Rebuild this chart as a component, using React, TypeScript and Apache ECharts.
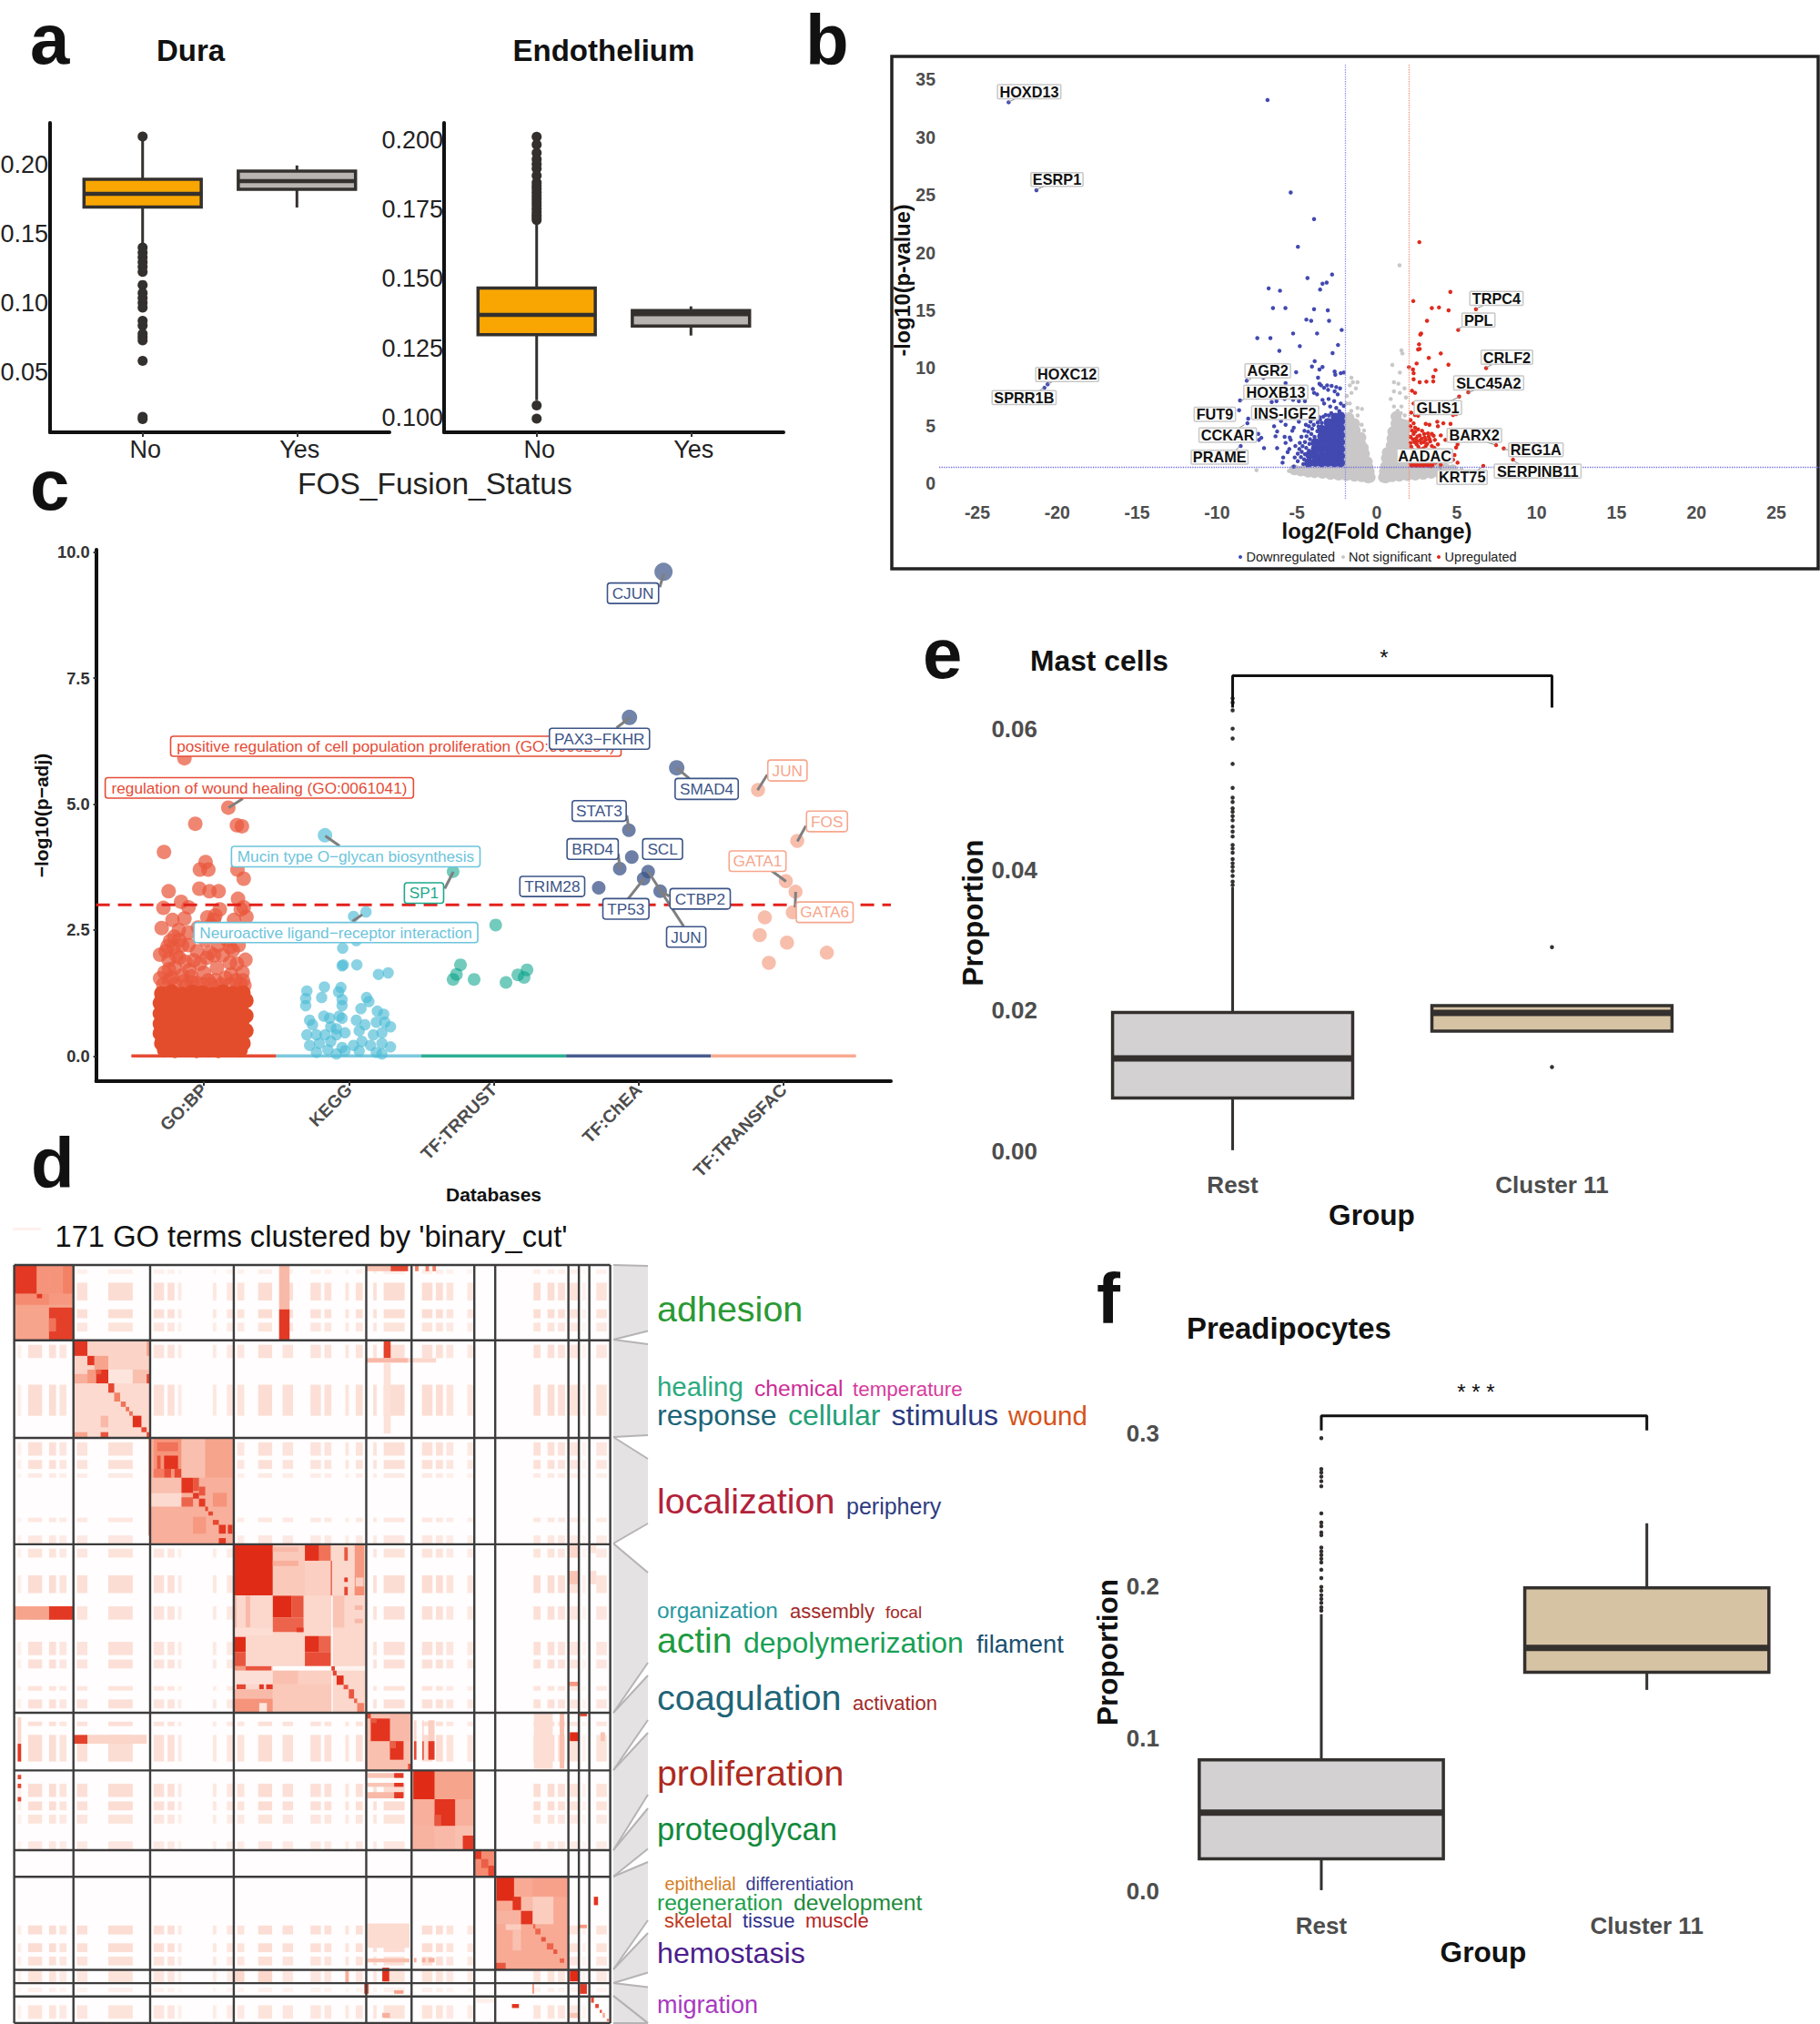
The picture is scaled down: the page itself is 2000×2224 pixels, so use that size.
import React, { useEffect, useRef } from "react";
import * as echarts from "echarts";

const FONT = '"Liberation Sans"';
const YES_NO = ["No", "Yes"];
const GROUPS = ["Rest", "Cluster 11"];
const DATABASES = ["GO:BP", "KEGG", "TF:TRRUST", "TF:ChEA", "TF:TRANSFAC"];

// ---- panel a: [x, low whisker, q1, median, q3, high whisker]
const duraBoxes = [
  [1, 0.143, 0.1694, 0.179, 0.1895, 0.2204],
  [2, 0.1691, 0.1822, 0.1882, 0.1955, 0.1995],
];
const duraOutliers = [0.2204, 0.1401, 0.1366, 0.1331, 0.1296, 0.1261, 0.1226, 0.1131, 0.1072, 0.1037, 0.1002, 0.0967, 0.0872, 0.0837, 0.0778, 0.0755, 0.0731, 0.0583, 0.0178, 0.0162];
const endoBoxes = [
  [1, 0.1063, 0.1299, 0.137, 0.1467, 0.171],
  [2, 0.1296, 0.133, 0.1373, 0.1386, 0.1401],
];
const endoOutliers = [0.2012, 0.1983, 0.1954, 0.1931, 0.1914, 0.1897, 0.1872, 0.1847, 0.1835, 0.1824, 0.1812, 0.18, 0.1788, 0.1777, 0.1765, 0.1753, 0.1741, 0.173, 0.1721, 0.1712, 0.1044, 0.0997];

// ---- panel b: volcano points [log2FC, -log10p]
const volcanoDown = [
  [-23.04, 33], [-21.3, 25.4], [-20.6, 8.6], [-20.8, 8.3], [-6.84, 33.2], [-5.39, 25.2], [-3.93, 22.9], [-4.94, 20.5], [-2.8, 18.1], [-4.34, 17.8], [-3.14, 17.4], [-3.4, 17.3], [-3.55, 16.8], [-6.77, 16.9], [-6.06, 16.7],
  [-6.5, 15.2], [-5.72, 15.2], [-3.93, 15.1], [-3.07, 15], [-4.41, 14.2], [-4.11, 14.1], [-2.99, 14.1], [-2.2, 13.3], [-5.24, 13], [-3.74, 13], [-7.48, 12.6], [-6.66, 12.6], [-2.43, 12], [-4.82, 11.9], [-6.1, 11.5], [-2.77, 11.3], [-3.89, 10.6],
  [-5.05, 9.64], [-4.06, 10.14], [-3.4, 10.1], [-3.59, 9.88], [-2.64, 9.7], [-2.6, 9.43], [-2.26, 9.56], [-2.07, 9.62], [-3.68, 9.17], [-3.59, 8.64], [-3.49, 8.51], [-3.3, 8.3], [-3.05, 8.12], [-3.11, 8.51], [-2.83, 8.46], [-2.54, 8.36], [-2.3, 8.25], [-2.64, 7.99], [-2.45, 7.73], [-4, 8.2], [-3.93, 7.86], [-3.74, 7.73], [-5.58, 8.38], [-5.71, 8.7], [-7.1, 9.17], [-8.14, 8.91], [-8.56, 7.2], [-8.62, 6.36], [-8.05, 5.63], [-8.1, 5.23], [-7.42, 4.31], [-7.23, 3.97], [-7.38, 3.79], [-8.52, 3.26], [-7.06, 3.08],
  [-6.58, 7.07], [-6.28, 7.15], [-5.77, 7.33], [-5.24, 7.25], [-4.88, 7.15], [-4.5, 7.15], [-3.4, 7.25], [-3.02, 7.33], [-2.67, 7.15], [-2.26, 6.94], [-2.07, 6.73], [-3.3, 6.94], [-3.74, 6.55], [-2.92, 6.68], [-2.54, 6.55], [-2.35, 6.28],
  [-6.43, 4.97], [-6, 5.42], [-5.71, 5.1], [-6.24, 4.52], [-6.34, 4.1], [-5.77, 4.05], [-6.24, 3.08], [-5.71, 3.53], [-5.86, 2.27], [-5.9, 1.82], [-5.58, 2.74], [-5.48, 3], [-5.39, 3.79], [-5.29, 4.58], [-5.2, 4.84], [-5.45, 4], [-5.1, 3.26], [-4.88, 5.36], [-4.72, 5.89], [-4.15, 5.36], [-3.77, 6.02], [-3.59, 5.76],
  [-5.2, 1.48], [-4.95, 1.95], [-5.14, 2.27], [-4.82, 3.53], [-4.72, 4.05], [-4.53, 4.58], [-4.44, 5.1], [-4.25, 4.97], [-3.97, 5.63],
  [-4.95, 2.6], [-4.85, 3], [-4.75, 2.3], [-4.7, 2.75], [-4.65, 3.25], [-4.6, 1.7], [-4.55, 2.1], [-4.5, 2.55], [-4.5, 3.6], [-4.42, 3.1], [-4.4, 4.1], [-4.35, 1.6], [-4.3, 2.05], [-4.3, 4.5], [-4.25, 2.85], [-4.22, 3.45], [-4.18, 3.85], [-4.1, 4.3], [-4.1, 2.4], [-4.05, 4.75], [-4.02, 1.75], [-3.98, 3.15], [-3.95, 5.1], [-3.9, 4.05], [-3.88, 3.6], [-3.8, 2.2], [-3.72, 4.55], [-3.7, 5.3], [-3.65, 4.95], [-3.55, 5.55], [-3.45, 5.25], [-3.35, 5.8], [-3.2, 5.95], [-3, 5.9], [-2.85, 6.1],
];
const volcanoDownDense = [
  [-2.27, 1.82], [-2.27, 2.4], [-2.27, 3], [-2.27, 3.6], [-2.27, 4.2], [-2.27, 4.8], [-2.27, 5.4], [-2.27, 5.85],
  [-2.65, 1.82], [-2.65, 2.3], [-2.65, 2.9], [-2.65, 3.5], [-2.65, 4.1], [-2.65, 4.7], [-2.65, 5.3], [-2.6, 5.75],
  [-3.05, 1.85], [-3.05, 2.4], [-3.05, 3], [-3.05, 3.6], [-3.05, 4.2], [-3.05, 4.8], [-3.05, 5.3],
  [-3.45, 1.82], [-3.45, 2.35], [-3.45, 2.95], [-3.45, 3.5], [-3.45, 4.1], [-3.45, 4.7],
  [-3.85, 1.85], [-3.85, 2.4], [-3.85, 3], [-3.85, 3.55],
  [-4.25, 1.82], [-4.2, 2.5],
];
const volcanoNsDense = [
  [-1.75, 1.6], [-1.75, 2.2], [-1.75, 2.8], [-1.75, 3.4], [-1.75, 4], [-1.75, 4.6], [-1.75, 5.2], [-1.75, 5.7],
  [-1.35, 1.6], [-1.35, 2.2], [-1.35, 2.8], [-1.35, 3.4], [-1.35, 4], [-1.35, 4.6], [-1.4, 5.2],
  [-1, 1.6], [-1, 2.2], [-1, 2.8], [-1, 3.4], [-1, 4],
  [-0.75, 1.5], [-0.75, 2], [-0.78, 2.6], [-0.85, 3.1],
  [-0.55, 0.9], [-0.55, 1.4], [-0.6, 1.9], [-0.42, 0.55], [-0.48, 1.05],
  [0.42, 0.55], [0.48, 1.05], [0.55, 0.9], [0.55, 1.5], [0.6, 2.2], [0.65, 2.7],
  [0.8, 1.5], [0.8, 2.1], [0.85, 2.7], [0.9, 3.3], [0.95, 3.9], [1, 4.5],
  [1.1, 1.6], [1.1, 2.2], [1.1, 2.8], [1.15, 3.4], [1.15, 4], [1.15, 4.6], [1.2, 5.2], [1.2, 5.8],
  [1.4, 1.6], [1.4, 2.2], [1.4, 2.8], [1.45, 3.4], [1.45, 4], [1.45, 4.6], [1.5, 5.2],
  [1.75, 1.6], [1.75, 2.2], [1.75, 2.8], [1.75, 3.4], [1.75, 4], [1.75, 4.6], [1.75, 5.1],
  [-5.15, 1.2], [-4.75, 1.1], [-4.3, 1], [-4.3, 1.3], [-3.9, 0.95], [-3.9, 1.3], [-3.4, 0.9], [-3.4, 1.25], [-2.9, 0.8], [-2.9, 1.2], [-2.4, 0.75], [-2.4, 1.2], [-1.9, 0.7], [-1.9, 1.2], [-1.4, 0.65], [-1.4, 1.1], [-0.95, 0.6], [-0.95, 1.1], [-0.55, 0.5],
  [0.55, 0.5], [0.95, 0.6], [0.95, 1.1], [1.4, 0.65], [1.4, 1.1], [1.9, 0.7], [1.9, 1.2], [2.4, 0.75], [2.4, 1.2], [2.9, 0.8], [2.9, 1.2], [3.4, 0.9], [3.4, 1.25], [3.9, 0.95], [3.9, 1.3], [4.3, 1.05], [4.3, 1.3], [4.75, 1.2],
];
const volcanoNs = [
  [1.42, 18.9], [1.54, 11.53], [1.6, 11.27], [0.97, 10.27], [1.44, 9.62], [1.07, 8.78], [1.35, 8.65], [1.73, 8.25], [1.07, 7.99], [1.44, 7.86], [0.87, 7.33], [1.82, 7.46], [-1.59, 9.17], [-1.21, 8.78], [-1.5, 8.78], [-1.69, 8.51], [-1.31, 8.25], [-1.59, 7.86], [-1.88, 7.6], [-1.69, 6.94], [-1.21, 6.55], [-0.93, 6.47], [1.07, 6.68], [1.54, 6.68], [1.3, 6.3], [-7.53, 1.17], [-1.88, 6.94], [-1.6, 6.3], [-1.2, 5.9], [-0.95, 5.1], [-0.8, 4.6], [-5.5, 1.1], [5, 1.15], [5.3, 1.25], [1.75, 5.9], [1.5, 6.1],
];
const volcanoUp = [
  [2.66, 20.9], [4.6, 16.6], [2.28, 15.8], [3.44, 15.2], [3.89, 15.25], [4.49, 15], [6.2, 15.1], [3.14, 14.1], [5.09, 13.3], [2.77, 13], [2.72, 12.9],
  [2.64, 12.06], [2.68, 11.66], [2.58, 11.61], [4, 11.27], [3.25, 10.88], [2.01, 10.09], [2.49, 10.4], [2.26, 9.88], [4.48, 10.3], [6.84, 10], [3.67, 9.83], [3.53, 9.25], [3.1, 8.83], [3.53, 8.85], [2.68, 8.78], [2.3, 9.56], [2.3, 9.04], [2.2, 8.04], [2.39, 7.86], [5.72, 7.91], [5.15, 7.54], [2.3, 6.94],
  [2.15, 6.15], [2.39, 5.94], [2.58, 5.89], [4.77, 5.94], [4.96, 6.02], [4.2, 6.28], [2.11, 5.5], [2.3, 5.23], [2.11, 4.97], [2.39, 4.84], [3.06, 5.18], [3.29, 5.1], [3.78, 5.36], [3.82, 4.97], [4.16, 5.23], [4.61, 5.18], [2.58, 4.71], [2.83, 4.58], [2.3, 4.31], [2.68, 4.18], [2.96, 4.31], [3.25, 4.05], [3.44, 4.31], [4, 4.18], [2.11, 4.05], [3.06, 3.79], [3.34, 3.66], [3.63, 3.79], [4.29, 3.79], [2.11, 3.53], [2.49, 3.4], [2.77, 3.53], [3.06, 3.26], [3.44, 3.26], [3.82, 3.4], [5.05, 3.4], [4.96, 3.13], [2.2, 3], [2.68, 3], [2.3, 2.61], [3.25, 2.74], [5.05, 1.82], [4.86, 2.48], [4.77, 2.08], [4, 1.64], [7.46, 3.34], [7.94, 3.05], [8.52, 2.08], [6.66, 1.53], [3.91, 2.87], [2.2, 1.95], [3.44, 1.95], [2.77, 2.48], [3.67, 1.82],
  [2.4, 4.5], [2.55, 4.1], [2.2, 4.6], [2.45, 3.9], [2.8, 3.9], [2.95, 3.6], [3.15, 3.45], [2.6, 3.2], [2.9, 3.05], [3.6, 3.1], [2.35, 3.6], [2.15, 3.2], [3.2, 4.35], [3.55, 4.15], [2.25, 3.85], [2.5, 3.65], [2.7, 3.75], [3, 4], [3.3, 3.85], [2.25, 2.75], [2.55, 2.8], [2.85, 2.7],
];
const volcanoUpDense = [[2.2, 1.68], [2.45, 1.68], [2.7, 1.68], [2.95, 1.68], [3.2, 1.68], [3.4, 1.65]];

// ---- panel c: Manhattan points [x position, -log10(p-adj)]
const goBpPoints = [
  [0.866, 5.91], [1.169, 4.93], [0.941, 4.61], [1.228, 4.58], [1.263, 4.56], [0.725, 4.05], [1.012, 3.85], [0.973, 3.7], [1.031, 3.7], [1.232, 3.7], [1.275, 3.52], [0.757, 3.27], [0.969, 3.32], [1.039, 3.27], [1.102, 3.27], [0.843, 3.06], [1.236, 3.12], [0.721, 2.94], [0.894, 2.95], [1.11, 2.91], [1.275, 2.95], [1.255, 2.91], [0.784, 2.7], [0.866, 2.73], [1.024, 2.75], [1.079, 2.79], [1.294, 2.76], [1.208, 2.7], [1.07, 2.7], [1.05, 2.6], [0.709, 2.54], [0.827, 2.5], [0.768, 2.29], [0.796, 2.37], [0.894, 2.45], [0.737, 2.08], [0.698, 2.01], [0.757, 1.91], [0.894, 2.2], [0.953, 2.08], [1.071, 2], [1.181, 2.16], [1.287, 1.91], [1.228, 1.83], [0.874, 1.87], [0.973, 1.83], [1.09, 1.75], [0.729, 1.66], [1.267, 1.66], [0.914, 1.58], [1.031, 1.5], [1.188, 1.62], [0.698, 1.54], [0.8, 1.75], [0.85, 2.2], [1.16, 2.3], [1.2, 2.1], [0.79, 2.15], [0.83, 2.3], [0.9, 1.7], [1, 1.65], [1.15, 1.55], [0.78, 1.55], [1.27, 1.5], [1.1, 2.2], [0.96, 2.55], [1.13, 2.4], [0.85, 1.6],
  [0.72, 1.42], [0.76, 1.5], [0.8, 1.42], [0.83, 1.95], [0.86, 1.48], [0.88, 1.4], [0.92, 1.45], [0.93, 1.9], [0.95, 1.45], [0.99, 1.42], [1.02, 1.95], [1.04, 2.05], [1.05, 1.42], [1.08, 1.5], [1.12, 1.42], [1.13, 2], [1.18, 1.85], [1.18, 1.42], [1.22, 1.5], [1.25, 1.42], [1.28, 1.4], [0.75, 2.18], [0.81, 2], [1.01, 2.3], [1.18, 2.45], [1.24, 2.2], [0.76, 1.72],
];
const goBpDense = [
  [0.71, 1.24], [0.78, 1.27], [0.85, 1.22], [0.92, 1.26], [0.99, 1.25], [1.06, 1.22], [1.13, 1.27], [1.2, 1.24], [1.27, 1.25], [1.29, 1.1],
  [0.7, 1.05], [0.77, 1.03], [0.84, 1.06], [0.91, 1.02], [0.98, 1.05], [1.05, 1.04], [1.12, 1.03], [1.19, 1.06], [1.26, 1.02],
  [0.7, 0.84], [0.77, 0.86], [0.84, 0.83], [0.91, 0.85], [0.98, 0.82], [1.05, 0.86], [1.12, 0.84], [1.19, 0.83], [1.26, 0.86], [1.29, 0.8],
  [0.7, 0.64], [0.77, 0.62], [0.84, 0.65], [0.91, 0.63], [0.98, 0.66], [1.05, 0.62], [1.12, 0.65], [1.19, 0.63], [1.26, 0.64],
  [0.7, 0.45], [0.77, 0.43], [0.84, 0.46], [0.91, 0.42], [0.98, 0.44], [1.05, 0.46], [1.12, 0.43], [1.19, 0.45], [1.26, 0.42], [1.29, 0.5],
  [0.71, 0.25], [0.78, 0.24], [0.85, 0.26], [0.92, 0.23], [0.99, 0.25], [1.06, 0.24], [1.13, 0.26], [1.2, 0.23], [1.27, 0.25],
  [0.73, 0.12], [0.8, 0.11], [0.88, 0.13], [0.95, 0.11], [1.03, 0.12], [1.1, 0.11], [1.18, 0.13], [1.25, 0.12],
];
const keggPoints = [
  [1.836, 4.38], [2.033, 2.77], [2.119, 2.86], [2.052, 2.29], [1.958, 2.14], [1.962, 1.81], [2.056, 1.81], [1.954, 1.79], [2.205, 1.62], [2.272, 1.65], [1.711, 1.29], [1.832, 1.37], [1.946, 1.36], [1.93, 1.27], [1.703, 1.14], [1.813, 1.16], [1.954, 1.12], [2.123, 1.16], [1.703, 1], [2.139, 1.08], [1.954, 1], [2.084, 0.94], [1.73, 0.71], [2.197, 0.89], [2.241, 0.83], [1.828, 0.79], [1.934, 0.79], [1.954, 0.75], [1.868, 0.75], [1.75, 0.62], [1.876, 0.58], [1.915, 0.54], [2.052, 0.71], [2.111, 0.62], [2.19, 0.67], [2.249, 0.67], [2.288, 0.58], [1.711, 0.42], [1.777, 0.42], [1.836, 0.42], [1.915, 0.42], [1.974, 0.46], [2.072, 0.5], [2.17, 0.42], [2.229, 0.46], [1.73, 0.21], [1.797, 0.25], [1.876, 0.29], [1.954, 0.17], [2.033, 0.21], [2.091, 0.29], [2.15, 0.21], [2.229, 0.25], [2.288, 0.18], [1.777, 0.07], [1.856, 0.12], [1.915, 0.04], [1.974, 0.1], [2.072, 0.1], [2.19, 0.07], [2.229, 0.04],
];
const trrustPoints = [[2.72, 3.66], [3.014, 2.6], [2.771, 1.81], [2.743, 1.62], [2.72, 1.52], [2.865, 1.52], [3.085, 1.46], [3.167, 1.61], [3.23, 1.71], [3.21, 1.56]];
const cheaPoints = [[4.172, 9.61], [3.937, 6.72], [4.263, 5.72], [3.933, 4.48], [3.953, 3.95], [3.87, 3.72], [4.066, 3.66], [4.035, 3.52], [3.725, 3.34], [4.149, 3.27]];
const transfacPoints = [[4.824, 5.28], [5.095, 4.27], [5.016, 3.47], [5.083, 3.26], [5.064, 2.85], [4.871, 2.75], [4.836, 2.4], [5.024, 2.25], [5.299, 2.05], [4.899, 1.85]];
const SIG_LINE = 3;

// ---- panel d: term counts of the 11 clusters and hand-read regions of the similarity matrix
const clusterEdges = [0, 17, 39, 63, 101, 114, 132, 138, 159, 162, 165, 171];
// pale stripes [first term, last term, strength]
const paleBands = [
  [1, 2, 0.5], [4, 8, 1], [10, 12, 1], [13, 15, 0.8],
  [18, 21, 0.9], [27, 34, 1],
  [40, 43, 0.9], [44, 46, 0.9], [47, 48, 0.6], [57, 58, 0.7], [61, 63, 0.7],
  [64, 66, 0.8], [70, 74, 1], [77, 80, 0.9], [85, 88, 0.9], [89, 91, 0.9], [95, 96, 0.8], [98, 100, 0.9],
  [103, 104, 0.9], [106, 112, 1],
  [117, 120, 1], [121, 123, 1], [124, 126, 0.8], [130, 132, 0.7],
  [149, 151, 1], [153, 155, 1], [156, 158, 0.9],
  [159, 162, 0.8], [163, 164, 0.4], [167, 170, 0.8],
];
// [col from, col to, row from, row to, similarity], painted in order
const blockRegions = [
  // cluster 1
  [0, 17, 0, 17, 0.55], [0, 6.5, 0, 6.5, 0.95], [6.5, 10, 0, 6.5, 0.62], [10, 17, 0, 6.5, 0.62], [14, 17, 0, 6.5, 0.7], [0, 10, 6.5, 9, 0.66], [6.5, 8, 6.5, 7.5, 0.95], [10, 17, 6.5, 9, 0.6], [10, 17, 9.6, 17, 0.93], [10, 12, 12, 15, 0.75],
  // cluster 2
  [17, 39, 17, 39, 0.28], [21, 39, 17, 23.6, 0.33], [27, 34, 23.6, 26.7, 0.2], [34, 39, 23.6, 26.7, 0.42], [17, 21, 20.5, 26.7, 0.33], [17, 21, 24.6, 26.7, 0.5], [23, 27, 20.5, 23.6, 0.55], [21, 23.5, 23.6, 26.7, 0.6],
  [17, 21, 17, 20.5, 0.96], [21, 23, 20.5, 22.6, 0.96], [23.5, 27, 23.6, 26.7, 0.96], [23.5, 25, 23.6, 24.6, 0.82], [27, 28.7, 26.7, 28.8, 0.9], [28.7, 30.4, 28.8, 30.8, 0.7], [30.6, 32, 30.8, 32, 0.75], [32, 33, 32, 33, 0.75], [33, 34, 33, 34, 0.75], [34, 36.5, 34, 36.6, 0.98], [36.5, 38, 36.6, 37.7, 0.9], [38, 39, 37.7, 39, 0.9], [17, 21, 37.7, 39, 0.55], [24.8, 27, 34, 36.6, 0.45], [24.8, 27, 37.7, 39, 0.85], [38, 39, 17, 20.5, 0.55], [38, 39, 24.6, 26.7, 0.9],
  [38.5, 39, 39, 61, 0.55],
  // cluster 3
  [39, 63, 39, 63, 0.5], [40, 48, 39, 48, 0.62], [41, 47, 40, 42, 0.75], [43, 47, 43, 46, 0.97], [43, 45, 46, 48, 0.88], [46, 48, 46, 48, 0.9], [41, 42, 43, 46, 0.85], [40, 43, 46, 48, 0.72],
  [48, 54.8, 39, 48, 0.42], [54.8, 63, 39, 48, 0.55], [39, 48, 48, 51.4, 0.42], [39, 48, 51.4, 54.5, 0.28], [54.8, 63, 48, 54.5, 0.5], [57, 61, 51.4, 54.5, 0.62],
  [48, 51.3, 48, 51.4, 0.97], [51.3, 53, 48, 51, 0.85], [53, 54.8, 50, 52, 0.85], [48, 51.3, 52.4, 54.5, 0.8], [51.3, 53, 51.4, 52.7, 0.95], [53, 54.8, 52.7, 54.5, 0.95], [54.8, 55.6, 54.5, 55.5, 0.9], [55.7, 57, 55.6, 56.5, 0.9], [57, 58.7, 57.5, 58.6, 0.9], [58.7, 60.7, 58.6, 60.6, 0.95], [61.3, 62.6, 58.6, 60.6, 0.95], [58.7, 60.7, 61.6, 63, 0.95], [51.3, 55, 56.8, 60.6, 0.6],
  // cluster 4
  [63, 101, 63, 101, 0.3], [63, 74.2, 63, 74.5, 1], [74.2, 83.4, 63, 74.5, 0.38], [74.2, 81.5, 63.7, 64.7, 0.45], [74.2, 81.5, 66.7, 67.9, 0.5], [83.4, 87.5, 63, 66.7, 0.98], [87.5, 90.8, 63, 66.7, 0.75], [83.4, 90.8, 66.7, 74.5, 0.35], [90.8, 91.2, 66.7, 74.5, 0.8],
  [94.7, 95.7, 63.7, 66.7, 0.85], [94.7, 95.7, 70.5, 71.5, 0.95], [94.7, 95.7, 72.6, 74.5, 0.9], [97.7, 100.4, 63, 74.5, 0.6], [98, 100.2, 70.5, 72.5, 0.35], [97.7, 100.4, 72.6, 74.5, 0.65],
  [63, 74.2, 74.6, 81.8, 0.3], [66.4, 67.7, 74.6, 81.8, 0.45], [63, 63.8, 74.6, 81.8, 0.45], [63, 74.2, 81.8, 83.6, 0.25],
  [74.2, 79.5, 74.6, 79.5, 1], [79.5, 83, 74.6, 79.5, 0.85], [74.2, 83, 79.5, 82.8, 0.8], [81, 83, 81.8, 82.8, 0.95],
  [91.2, 94.7, 74.6, 81.8, 0.4], [97.7, 100, 76.8, 77.8, 0.45], [97.7, 100, 79.8, 80.8, 0.45],
  [63, 66.4, 83.9, 87.3, 1], [63, 66.4, 87.3, 90.5, 0.85], [83.4, 87.5, 83.7, 87.3, 0.98], [87.5, 90.8, 83.7, 87.3, 0.8], [83.4, 90.8, 87.3, 90.5, 0.88],
  [63, 66.4, 90.5, 91.5, 0.6], [66.4, 73.8, 90.5, 91.5, 0.85], [74.2, 91, 90.5, 91.5, 0.02], [91, 91.4, 74.6, 101, 0.02], [91.4, 101, 90.5, 91.5, 0.1],
  [63, 74.2, 91.5, 94.6, 0.24], [74.2, 81.5, 91.5, 94.6, 0.42], [81.5, 91, 91.5, 94.6, 0.35], [63.8, 66.4, 94.6, 95.7, 0.9], [70.3, 71.6, 94.6, 95.7, 0.95], [72.3, 74.2, 94.6, 95.7, 0.95], [63, 74.2, 95.7, 97.8, 0.45], [63, 74.2, 97.8, 101, 0.62], [70.3, 72.5, 98.8, 101, 0.2], [74.2, 91, 94.6, 101, 0.38],
  [91, 92, 90.5, 91.5, 0.9], [91.4, 92.5, 91.5, 92.6, 0.9], [92.5, 94.5, 92.6, 94.7, 0.98], [94.5, 95.8, 94.7, 95.7, 0.85], [96, 97.5, 95.7, 97.8, 0.85], [97.5, 98.4, 97.8, 98.8, 0.8], [98.4, 100.4, 98.8, 100.8, 0.7],
  // cluster 5
  [101, 114, 101, 114, 0.42], [107.8, 114, 101, 107.4, 0.45], [102.3, 107.8, 102.3, 107.4, 0.97], [102.3, 104, 102.3, 103.3, 0.85], [107.8, 111.7, 107.4, 111.6, 0.97], [107.8, 109.5, 107.4, 109, 0.82], [113, 114, 112.5, 114, 0.9], [101, 102.3, 101, 102.3, 0.9],
  // cluster 6
  [114, 132, 114, 132, 0.42], [120.6, 132, 114, 120.5, 0.55], [114, 120.6, 120.5, 126.5, 0.5], [126.5, 132, 120.5, 126.5, 0.5], [120.6, 126.5, 126.5, 132, 0.45], [114, 120.6, 126.5, 132, 0.48], [114.5, 120.6, 114.1, 120.5, 1], [120.6, 126.5, 120.5, 126.5, 0.97], [120.6, 122.5, 124, 126.5, 0.85], [128.7, 132, 128.7, 132, 0.95],
  // cluster 7
  [132, 138, 132, 138, 0.66], [132, 134, 132, 134, 0.95], [134, 136, 134, 136, 0.82], [136, 138, 135.5, 138, 0.9],
  // cluster 8
  [138, 159, 138, 159, 0.52], [143.4, 148.7, 138, 142.5, 0.52], [148.7, 159, 138, 142.5, 0.56], [148.7, 154.7, 142.5, 148.7, 0.36], [145.4, 148.7, 142.5, 145.7, 0.44], [138, 145.4, 145.7, 148.7, 0.48], [141, 145.4, 148.7, 150, 0.36], [143, 145.4, 150, 154.6, 0.42],
  [138.4, 143.4, 138, 143.4, 1], [143, 145.4, 142.5, 145.5, 0.97], [145.4, 148.7, 145.7, 148.7, 0.97], [148.9, 149.5, 148.7, 149.7, 0.8], [149.5, 151, 149.7, 151, 0.8], [151.2, 152.5, 151.6, 152.6, 0.85], [152.8, 154.7, 153, 154.4, 0.8], [154.7, 155.8, 154.4, 155.4, 0.85], [156.5, 157.8, 156.4, 157.4, 0.8], [138.2, 141, 157.4, 159, 0.85],
  // clusters 9 to 11
  [159.4, 161.7, 159, 161.6, 1], [162.3, 164.3, 162.2, 164.4, 0.95], [165.5, 166.3, 165, 166.4, 0.9], [166.7, 167.7, 166.7, 167.6, 0.9], [168, 168.6, 168, 168.7, 0.85], [168.8, 169.5, 168.7, 169.8, 0.5], [170, 170.7, 170, 170.6, 0.7],
];
const offBlockRegions = [
  [76, 79, 0, 10, 0.45], [76, 79, 10, 17, 0.95], [0, 10, 77, 80, 0.55], [10, 17, 77, 80, 0.95],
  [101, 108, 0, 1.4, 0.4], [108, 113, 0, 1.4, 0.9], [115, 116, 0, 1.4, 0.7], [118, 119, 0, 1.4, 0.7], [120, 121, 0, 1.4, 0.7],
  [106, 108, 17, 21, 0.92], [101, 113, 21, 22, 0.45], [106, 108, 22, 38, 0.22], [113, 121, 21, 22, 0.3],
  [17, 21, 106, 108, 0.92], [21, 38, 106, 108, 0.32],
  [1, 2, 102, 108, 0.3], [1, 2, 108, 112, 0.95], [159.4, 161.7, 105.4, 107.4, 1],
  [114.7, 115.4, 102.7, 107.4, 0.3], [117.1, 117.5, 102.7, 107.4, 0.3], [118.8, 120.6, 102.7, 107.4, 0.35], [114.7, 115.4, 107.4, 111.6, 0.9], [117.1, 117.5, 107.4, 111.6, 0.9], [118.8, 120.6, 107.4, 111.6, 0.95],
  [149.1, 154.5, 101, 113.6, 0.25], [156.5, 157.8, 101, 113.6, 0.42], [162.3, 164.3, 101, 101.8, 0.9], [168.2, 169.5, 105.4, 107.4, 0.4],
  [101.3, 109, 114.6, 115.7, 0.4], [109, 111.7, 114.6, 115.7, 0.95], [101.3, 109, 116.8, 117.7, 0.4], [109, 111.7, 116.8, 117.7, 0.95], [101.3, 109, 118.9, 120.3, 0.45], [109, 111.7, 118.9, 120.3, 0.95],
  [1, 2, 115, 116, 0.9], [1, 2, 117, 118, 0.9], [1, 2, 120, 121, 0.9],
  [101.3, 113.4, 148.5, 154, 0.27], [101.3, 113.4, 156.4, 157.3, 0.42], [114.7, 115.4, 156.3, 157.3, 0.5], [117, 118, 156.3, 157.3, 0.5], [118.8, 120.6, 156.3, 157.3, 0.5],
  [105.6, 107.6, 158.5, 161.6, 0.98], [63, 66, 159, 162, 0.3], [70, 74, 159, 162, 0.3], [95, 96, 159, 162, 0.5],
  [159, 162, 63, 66, 0.3], [159, 162, 69, 72, 0.4], [159, 162, 94, 95, 0.6], [165, 167, 63, 65, 0.2], [165, 167, 69, 72, 0.25],
  [166.3, 167.5, 142.5, 144.4, 0.97], [162.1, 164.3, 148.8, 149.6, 0.6], [142.8, 144.8, 166.7, 167.6, 0.97], [148.7, 149.1, 162, 164.4, 0.7], [100.4, 101.7, 162, 164.4, 0.85], [109, 111.7, 163.6, 164.4, 0.55], [105.6, 107.8, 168.7, 169.8, 0.5], [159.4, 161.7, 168.7, 169.8, 0.4], [132.6, 137.8, 165, 166.4, 0.12],
];

// ---- panels e, f
const mastBoxes = [
  [1, 0.0002, 0.00762, 0.01322, 0.01974, 0.0375],
  [2, 0.0171, 0.0171, 0.01968, 0.02072, 0.02072],
];
const mastOutliersRest = [0.0643, 0.0637, 0.0626, 0.06, 0.0586, 0.055, 0.0516, 0.0502, 0.0496, 0.0487, 0.0482, 0.0476, 0.047, 0.0461, 0.0454, 0.0447, 0.0435, 0.043, 0.0424, 0.0415, 0.0409, 0.0404, 0.0398, 0.0391, 0.0383, 0.0378];
const mastOutliersCluster = [0.029, 0.012];
const mastBracket = [[1, 0.063], [1, 0.0675], [2, 0.0675], [2, 0.063]];
const preBoxes = [
  [1, 0.0006, 0.0211, 0.0514, 0.0861, 0.1817],
  [2, 0.132, 0.1435, 0.1596, 0.1989, 0.2413],
];
const preOutliers = [0.2972, 0.2769, 0.2746, 0.2719, 0.2689, 0.2656, 0.2478, 0.2418, 0.2394, 0.2353, 0.2335, 0.2254, 0.2228, 0.2204, 0.218, 0.2156, 0.2108, 0.2054, 0.1995, 0.1971, 0.1941, 0.1917, 0.1891, 0.1861, 0.184];
const preBracket = [[1, 0.3023], [1, 0.3118], [2, 0.3118], [2, 0.3023]];

// ---- word cloud
const wordCloud: [string, number, number, number, string][] = [
  ["adhesion", 722, 1453, 39.5, "#2A9934"],
  ["healing", 722, 1535, 29.4, "#2BAA80"], ["chemical", 829, 1535, 24.7, "#CC2E96"], ["temperature", 937, 1535, 22.4, "#D73C9C"],
  ["response", 722, 1567, 32, "#1B6478"], ["cellular", 866, 1567, 32, "#23A078"], ["stimulus", 979.6, 1567, 32, "#2B3A80"], ["wound", 1108, 1567, 29.5, "#D5531A"],
  ["localization", 722, 1664, 39.5, "#B2223A"], ["periphery", 930, 1664, 25, "#2E3A80"],
  ["organization", 722, 1779, 24.4, "#2698A0"], ["assembly", 868, 1779, 22, "#A32A28"], ["focal", 973, 1779, 19, "#A32A28"],
  ["actin", 722, 1817, 39, "#1D9A40"], ["depolymerization", 817, 1817, 32, "#17A055"], ["filament", 1073, 1817, 27.4, "#1B5070"],
  ["coagulation", 722, 1880, 39.6, "#1F6478"], ["activation", 937, 1880, 22, "#A32A28"],
  ["proliferation", 722, 1962.5, 39.3, "#AE2A20"],
  ["proteoglycan", 722, 2023, 34.6, "#118A3C"],
  ["epithelial", 730.6, 2077.4, 19.8, "#D67D22"], ["differentiation", 819.5, 2077.4, 19.8, "#3A3A90"],
  ["regeneration", 722, 2100, 24.6, "#1BA04A"], ["development", 872, 2100, 24.7, "#1D8A3A"],
  ["skeletal", 730, 2119, 22, "#C03A20"], ["tissue", 816, 2119, 22, "#30308A"], ["muscle", 885, 2119, 22, "#B62525"],
  ["hemostasis", 722, 2158, 32.2, "#4B1E8C"],
  ["migration", 722, 2213, 27, "#A83ABF"],
];
// [left top, left bottom, right top, right bottom] of each connector wedge
const wedges = [
  [1390, 1472, 1391, 1462.5], [1472, 1579, 1477, 1577], [1579, 1696, 1603, 1674], [1696, 1882, 1728, 1827], [1882, 1945, 1841, 1890],
  [1945, 2033, 1904, 1972], [2033, 2062, 1987, 2031.5], [2062, 2164, 2046, 2110], [2164, 2179, 2124, 2167.5], [2179, 2193, 2183.6, 2223], [2193, 2223, 2223, 2223],
];

const VOLCANO_LABELS: [string, number, number, number, number][] = [
  ["HOXD13", 192, 298, 116, 158], ["ESRP1", 248, 335, 377, 418], ["HOXC12", 256, 361, 955, 997], ["SPRR1B", 183, 290, 1024, 1065],
  ["AGR2", 606, 682, 944, 986], ["HOXB13", 604, 711, 1008, 1049], ["FUT9", 521, 590, 1073, 1115], ["INS-IGF2", 617, 729, 1069, 1110],
  ["CCKAR", 529, 625, 1135, 1177], ["PRAME", 516, 611, 1201, 1242], ["TRPC4", 982, 1071, 730, 771], ["PPL", 969, 1024, 794, 835],
  ["CRLF2", 1001, 1087, 904, 946], ["SLC45A2", 955, 1072, 980, 1022], ["GLIS1", 889, 968, 1054, 1095], ["BARX2", 944, 1035, 1136, 1177],
  ["REG1A", 1047, 1138, 1179, 1220], ["AADAC", 860, 953, 1197, 1238], ["SERPINB11", 1023, 1168, 1242, 1283], ["KRT75", 927, 1011, 1260, 1302],
];
const VOLCANO_LINKS = [
  [210, 168, 222, 158], [256, 428, 270, 418], [275, 1005, 285, 997], [270, 1015, 262, 1024], [609, 996, 618, 986], [638, 987, 650, 986], [598, 1056, 608, 1045],
  [605, 1125, 596, 1135], [598, 1188, 590, 1201], [992, 781, 1005, 771], [962, 843, 972, 830], [1009, 956, 1020, 946], [978, 1031, 990, 1022], [965, 1042, 950, 1054],
  [1025, 1185, 1010, 1177], [1038, 1197, 1047, 1200], [1055, 1232, 1065, 1242], [1003, 1250, 995, 1260], [930, 1245, 935, 1262],
];
const MANHATTAN_LABELS: [string, string, number, number, number, number][] = [
  ["positive regulation of cell population proliferation (GO:0008284)", "#E64B35", 268, 1060, 476, 524],
  ["regulation of wound healing (GO:0061041)", "#E64B35", 153, 695, 575, 624],
  ["Mucin type O\u2212glycan biosynthesis", "#6CC4DC", 375, 812, 739, 788],
  ["SP1", "#1EA98C", 679, 748, 826, 875],
  ["Neuroactive ligand\u2212receptor interaction", "#6CC4DC", 309, 808, 921, 969],
  ["CJUN", "#3C5488", 1036, 1126, 110, 159],
  ["PAX3\u2212FKHR", "#3C5488", 934, 1110, 457, 507],
  ["SMAD4", "#3C5488", 1155, 1266, 577, 627],
  ["STAT3", "#3C5488", 974, 1069, 630, 679],
  ["BRD4", "#3C5488", 965, 1055, 721, 770],
  ["SCL", "#3C5488", 1098, 1168, 721, 770],
  ["TRIM28", "#3C5488", 882, 996, 811, 859],
  ["CTBP2", "#3C5488", 1146, 1252, 840, 889],
  ["TP53", "#3C5488", 1028, 1109, 864, 913],
  ["JUN", "#3C5488", 1140, 1209, 931, 980],
  ["JUN", "#F7A68C", 1318, 1387, 533, 583],
  ["FOS", "#F7A68C", 1386, 1458, 655, 704],
  ["GATA1", "#F7A68C", 1250, 1350, 750, 799],
  ["GATA6", "#F7A68C", 1368, 1468, 872, 921],
];
const MANHATTAN_LINKS = [
  [1135, 88, 1128, 120], [1075, 432, 1052, 456], [370, 647, 395, 625], [1158, 552, 1180, 577], [1300, 605, 1317, 568], [1370, 727, 1385, 690], [1350, 823, 1325, 798], [1367, 848, 1366, 885],
  [1074, 702, 1070, 665], [1058, 793, 1055, 757], [1129, 847, 1145, 858], [1100, 817, 1072, 865], [1108, 800, 1170, 930], [765, 800, 750, 840], [540, 714, 565, 738], [588, 918, 605, 902],
];

const text = (t: string, x: number, base: number, size: number, fill: string, weight = "normal") => ({
  type: "text", z: 60,
  style: { text: t, x, y: base - size * 0.38, font: `${weight} ${size}px ${FONT}`, fill, align: "left", verticalAlign: "middle", textAlign: "left", textVerticalAlign: "middle" },
});
const centred = (t: string, x: number, y: number, size: number, fill: string, weight = "normal", rotation = 0) => ({
  type: "text", z: 60, x, y, rotation,
  style: { text: t, x: 0, y: 0, font: `${weight} ${size}px ${FONT}`, fill, align: "center", verticalAlign: "middle", textAlign: "center", textVerticalAlign: "middle" },
});

const boxRender = (bw: number, lw: number, mw: number, fills: string[]) => (_p: any, api: any) => {
  const x = api.value(0);
  const pt = (k: number) => api.coord([x, api.value(k)]);
  const cx = pt(1)[0];
  const left = api.coord([x - bw / 2, 0])[0];
  const right = api.coord([x + bw / 2, 0])[0];
  const [lo, q1, med, q3, hi] = [1, 2, 3, 4, 5].map((k) => pt(k)[1]);
  const stroke = "#33302E";
  const line = (x1: number, y1: number, x2: number, y2: number, w: number) => ({ type: "line", shape: { x1, y1, x2, y2 }, style: { stroke, lineWidth: w } });
  return {
    type: "group",
    children: [
      line(cx, hi, cx, q3, lw),
      line(cx, q1, cx, lo, lw),
      { type: "rect", shape: { x: left, y: q3, width: right - left, height: q1 - q3 }, style: { fill: fills[_p.dataIndex], stroke, lineWidth: lw + 0.5 } },
      line(left, med, right, med, mw),
    ],
  };
};

const rampColor = (v: number) => echarts.color.lerp(v, ["#ffffff", "#fbd3c6", "#f58a6f", "#e02b17"]);
const clusterOf = (t: number) => clusterEdges.findIndex((e, i) => t >= e && t < clusterEdges[i + 1]);

export default function App() {
  const ref = useRef<HTMLDivElement>(null);
  useEffect(() => {
    if (!ref.current) return;
    const chart = echarts.init(ref.current, undefined, { renderer: "svg" });

    const fixedLayout = { outerBoundsMode: "none", containLabel: false };
    const grids = [
      { left: 55, top: 135, width: 373, height: 340, ...fixedLayout },
      { left: 488, top: 135, width: 373, height: 340, ...fixedLayout },
      { left: 1032, top: 70, width: 968, height: 478, ...fixedLayout },
      { left: 105.6, top: 604, width: 873.4, height: 584, ...fixedLayout },
      { left: 15.6, top: 1390, width: 655, height: 833, ...fixedLayout },
      { left: 1144, top: 723.2, width: 772, height: 557.7, ...fixedLayout },
      { left: 1278, top: 1542, width: 717, height: 552.7, ...fixedLayout },
    ];
    const blackAxis = { show: true, onZero: false, lineStyle: { color: "#111", width: 4 } };
    const xCat = (gridIndex: number, min: number, max: number, names: string[], labelStyle: any, line: boolean) => ({
      type: "value", gridIndex, min, max, splitLine: { show: false },
      axisLine: line ? blackAxis : { show: false },
      axisTick: { show: line, customValues: names.map((_, i) => i + 1), length: 5, lineStyle: { color: "#333", width: 2 } },
      axisLabel: { customValues: names.map((_, i) => i + 1), formatter: (v: number) => names[Math.round(v) - 1] ?? "", fontFamily: FONT, showMinLabel: true, showMaxLabel: true, ...labelStyle },
    });
    const yVal = (gridIndex: number, min: number, max: number, ticks: number[], digits: number, labelStyle: any, line: boolean, tick = false) => ({
      type: "value", gridIndex, min, max, splitLine: { show: false },
      axisLine: line ? blackAxis : { show: false },
      axisTick: { show: tick, customValues: ticks, length: 3, lineStyle: { color: "#333", width: 2 } },
      axisLabel: { customValues: ticks, formatter: (v: number) => v.toFixed(digits), fontFamily: FONT, ...labelStyle },
    });
    const aLabel = { fontSize: 27, color: "#222" };
    const eLabel = { fontSize: 26, fontWeight: "bold", color: "#4d4d4d" };

    const xAxis: any[] = [
      xCat(0, 0.4, 2.6, YES_NO, { ...aLabel, margin: 5, padding: [0, 0, 0, 6] }, true),
      xCat(1, 0.4, 2.6, YES_NO, { ...aLabel, margin: 5, padding: [0, 0, 0, 6] }, true),
      {
        type: "value", gridIndex: 2, min: -27.39, max: 27.73, splitLine: { show: false }, axisLine: { show: false },
        axisTick: { show: false, customValues: [-25, -20, -15, -10, -5, 0, 5, 10, 15, 20, 25] },
        axisLabel: { customValues: [-25, -20, -15, -10, -5, 0, 5, 10, 15, 20, 25], fontFamily: FONT, fontSize: 19.5, fontWeight: "bold", color: "#4d4d4d", margin: 5 },
      },
      xCat(3, 0.2565, 5.741, DATABASES, { fontSize: 19.4, fontWeight: "bold", color: "#4d4d4d", rotate: 45, margin: 6, lineHeight: 32 }, true),
      { type: "value", gridIndex: 4, min: 0, max: 171, show: false },
      xCat(5, 0.4, 2.6, GROUPS, { ...eLabel, margin: 8.5 }, false),
      xCat(6, 0.5136, 2.518, GROUPS, { ...eLabel, margin: 8.5 }, false),
    ];
    const yAxis: any[] = [
      yVal(0, 0.0066, 0.2303, [0.05, 0.1, 0.15, 0.2], 2, { ...aLabel, margin: 2, padding: [0, 0, 3, 0] }, true),
      yVal(1, 0.09475, 0.2062, [0.1, 0.125, 0.15, 0.175, 0.2], 3, { ...aLabel, margin: 1, padding: [0, 0, 3, 0] }, true),
      {
        type: "value", gridIndex: 2, min: -1.3, max: 36.34, splitLine: { show: false }, axisLine: { show: false }, axisTick: { show: false, customValues: [0, 5, 10, 15, 20, 25, 30, 35] },
        axisLabel: { customValues: [0, 5, 10, 15, 20, 25, 30, 35], fontFamily: FONT, fontSize: 19.5, fontWeight: "bold", color: "#4d4d4d", margin: 4 },
      },
      yVal(3, -0.5, 10.05, [0, 2.5, 5, 7.5, 10], 1, { fontSize: 18.3, fontWeight: "bold", color: "#333", margin: 7 }, true, true),
      { type: "value", gridIndex: 4, min: 0, max: 171, inverse: true, show: false },
      yVal(5, -0.002, 0.07, [0, 0.02, 0.04, 0.06], 2, { ...eLabel, margin: 4, padding: [0, 0, 3, 0] }, false),
      yVal(6, -0.01, 0.32, [0, 0.1, 0.2, 0.3], 1, { ...eLabel, margin: 4, padding: [0, 0, 2, 0] }, false),
    ];

    const boxes = (axis: number, data: number[][], bw: number, lw: number, mw: number, fills: string[]) => ({
      type: "custom", xAxisIndex: axis, yAxisIndex: axis, data, clip: false, encode: { x: 0, y: [1, 2, 3, 4, 5] },
      renderItem: boxRender(bw, lw, mw, fills), z: 3,
    });
    const dots = (axis: number, data: number[][], size: number, color: string, opacity = 1, z = 2) => ({
      type: "scatter", xAxisIndex: axis, yAxisIndex: axis, data, symbolSize: size, clip: false, z,
      itemStyle: { color, opacity, borderWidth: 0 }, silent: true,
    });
    const path = (axis: number, data: number[][], color: string, width: number, dash: any = "solid", z = 4) => ({
      type: "line", xAxisIndex: axis, yAxisIndex: axis, data, showSymbol: false, symbol: "none", clip: false, z, silent: true,
      lineStyle: { color, width, type: dash, cap: "butt" },
    });
    const at = (x: number, values: number[]) => values.map((v) => [x, v]);

    const paleCells: number[][] = [];
    paleBands.forEach((a) => paleBands.forEach((b) => {
      if (clusterOf(a[0]) !== clusterOf(b[0])) paleCells.push([a[0], a[1], b[0], b[1], 0.26 * a[2] * b[2]]);
    }));
    const heatRender = (_p: any, api: any) => {
      const p0 = api.coord([api.value(0), api.value(2)]);
      const p1 = api.coord([api.value(1), api.value(3)]);
      return { type: "rect", shape: { x: p0[0], y: p0[1], width: p1[0] - p0[0], height: p1[1] - p0[1] }, style: { fill: rampColor(api.value(4)) } };
    };
    const edgeRender = (_p: any, api: any) => {
      const t = api.value(0);
      const v0 = api.coord([t, 0]); const v1 = api.coord([t, 171]);
      const h0 = api.coord([0, t]); const h1 = api.coord([171, t]);
      const style = { stroke: "#3c3c3c", lineWidth: 2.4 };
      return {
        type: "group",
        children: [
          { type: "line", shape: { x1: v0[0], y1: v0[1], x2: v1[0], y2: v1[1] }, style },
          { type: "line", shape: { x1: h0[0], y1: h0[1], x2: h1[0], y2: h1[1] }, style },
        ],
      };
    };
    const regionSeries = (data: number[][], z: number) => ({
      type: "custom", xAxisIndex: 4, yAxisIndex: 4, data, renderItem: heatRender, clip: false, z, encode: { x: [0, 1], y: [2, 3] }, silent: true,
    });

    const series: any[] = [
      boxes(0, duraBoxes, 0.76, 3, 4.5, ["#F9A602", "#B8B4B2"]),
      dots(0, at(1, duraOutliers), 11, "#33302E"),
      boxes(1, endoBoxes, 0.76, 3, 4.5, ["#F9A602", "#B8B4B2"]),
      dots(1, at(1, endoOutliers), 11, "#33302E"),

      {
        ...dots(2, volcanoNsDense, 12, "#C9C7C7"),
        z: 1,
        markLine: {
          silent: true, symbol: "none", label: { show: false }, animation: false,
          data: [
            { xAxis: -2, lineStyle: { color: "#8B8BE6", type: "dotted", width: 1.3 } },
            { xAxis: 2, lineStyle: { color: "#F0907A", type: "dotted", width: 1.3 } },
            { yAxis: 1.4, lineStyle: { color: "#6F6FDC", type: "dotted", width: 1.3 } },
          ],
        },
      },
      dots(2, volcanoNs, 4.5, "#C9C7C7", 1, 1),
      dots(2, volcanoDownDense, 10, "#4249B0"),
      dots(2, volcanoDown, 4.5, "#4249B0"),
      dots(2, volcanoUpDense, 7.5, "#DF2B1E"),
      dots(2, volcanoUp, 4.5, "#DF2B1E"),

      path(3, [[0.5, 0], [1.5, 0]], "#E64B35", 3.5, "solid", 1),
      path(3, [[1.5, 0], [2.5, 0]], "#7CC8DD", 3.5, "solid", 1),
      path(3, [[2.5, 0], [3.5, 0]], "#2EAE94", 3.5, "solid", 1),
      path(3, [[3.5, 0], [4.5, 0]], "#485C8E", 3.5, "solid", 1),
      path(3, [[4.5, 0], [5.5, 0]], "#F7AA90", 3.5, "solid", 1),
      dots(3, goBpPoints, 16, "#E9583C", 0.72),
      dots(3, goBpDense, 17, "#E44D2B", 1),
      dots(3, keggPoints.slice(0, 1), 16, "#4DBBD5", 0.65),
      dots(3, keggPoints.slice(1), 12.5, "#4DBBD5", 0.65),
      dots(3, trrustPoints, 14, "#00A087", 0.55),
      dots(3, cheaPoints.slice(0, 1), 20, "#3C5488", 0.7),
      dots(3, cheaPoints.slice(1, 3), 17, "#3C5488", 0.72),
      dots(3, cheaPoints.slice(3), 15, "#3C5488", 0.75),
      dots(3, transfacPoints, 15.5, "#F39B7F", 0.65),
      path(3, [[0.2565, SIG_LINE], [5.741, SIG_LINE]], "#E3211C", 3, [15, 9], 5),

      regionSeries([[0, 171, 0, 171, 0.012]], 1),
      regionSeries(paleCells, 2),
      regionSeries(blockRegions, 3),
      regionSeries(offBlockRegions, 4),
      { type: "custom", xAxisIndex: 4, yAxisIndex: 4, data: clusterEdges.map((e) => [e]), renderItem: edgeRender, clip: false, z: 5, encode: { x: 0 }, silent: true },

      boxes(5, mastBoxes, 0.752, 3, 7, ["#D3D1D2", "#D6C3A3"]),
      dots(5, at(1, mastOutliersRest), 4.5, "#33302E"),
      dots(5, at(2, mastOutliersCluster), 4.5, "#33302E"),
      path(5, mastBracket, "#111", 3),

      boxes(6, preBoxes, 0.75, 3, 7, ["#D3D1D2", "#D6C3A3"]),
      dots(6, at(1, preOutliers), 4.5, "#33302E"),
      path(6, preBracket, "#111", 3),
    ];

    const vx = (x: number) => x / 1.522 + 970;
    const vy = (y: number) => y / 2.7 + 50;
    const mx = (x: number) => x / 1.6 + 20;
    const my = (y: number) => y / 2.174 + 590;

    const graphicEls: any[] = [
      { type: "rect", z: 0, shape: { x: 980, y: 62, width: 1018, height: 563 }, style: { fill: "none", stroke: "#222", lineWidth: 3.5 } },
      { type: "rect", z: 0, shape: { x: 14, y: 1349, width: 31, height: 3 }, style: { fill: "#FFF1EE" } },

      text("a", 33, 73, 78, "#111", "bold"),
      text("b", 885, 74, 78, "#111", "bold"),
      text("c", 33, 563, 78, "#111", "bold"),
      text("d", 34, 1308, 78, "#111", "bold"),
      text("e", 1014, 748, 78, "#111", "bold"),
      text("f", 1205, 1457, 78, "#111", "bold"),

      text("Dura", 172, 68, 33, "#111", "bold"),
      text("Endothelium", 563.5, 68, 33, "#111", "bold"),
      text("FOS_Fusion_Status", 327, 544, 33.5, "#222"),

      centred("log2(Fold Change)", 1513, 583, 23.8, "#111", "bold"),
      centred("-log10(p-value)", 992, 308, 23.5, "#111", "bold", Math.PI / 2),
      text("Downregulated", 1369.5, 617.5, 14.5, "#222"),
      text("Not significant", 1482, 617.5, 14.5, "#222"),
      text("Upregulated", 1587.6, 617.5, 14.5, "#222"),
      { type: "circle", z: 60, shape: { cx: 1363, cy: 612, r: 2 }, style: { fill: "#4249B0" } },
      { type: "circle", z: 60, shape: { cx: 1476, cy: 612, r: 2 }, style: { fill: "#C9C7C7" } },
      { type: "circle", z: 60, shape: { cx: 1581, cy: 612, r: 2 }, style: { fill: "#DF2B1E" } },

      centred("\u2212log10(p\u2212adj)", 45, 896, 21, "#111", "bold", Math.PI / 2),
      centred("Databases", 542.5, 1312, 21, "#111", "bold"),

      centred("171 GO terms clustered by 'binary_cut'", 342, 1358.6, 32.7, "#111"),

      text("Mast cells", 1132, 738, 31.8, "#111", "bold"),
      centred("*", 1521, 722, 24, "#111"),
      centred("Group", 1507.5, 1334.5, 31.6, "#111", "bold"),
      centred("Proportion", 1069, 1003, 31.5, "#111", "bold", Math.PI / 2),

      text("Preadipocytes", 1304, 1472, 32.9, "#111", "bold"),
      centred("* * *", 1622, 1529, 24, "#111"),
      centred("Group", 1630, 2145, 31.6, "#111", "bold"),
      centred("Proportion", 1216.6, 1815.5, 31.5, "#111", "bold", Math.PI / 2),
    ];

    wedges.forEach(([lt, lb, rt, rb]) => {
      graphicEls.push({
        type: "polygon", z: 10,
        shape: { points: [[674, lt], [712, rt], [712, rb], [674, lb]] },
        style: { fill: "#E4E2E3" },
      });
      graphicEls.push({ type: "line", z: 11, shape: { x1: 674, y1: lt, x2: 712, y2: rt }, style: { stroke: "#B5B3B3", lineWidth: 2 } });
      graphicEls.push({ type: "line", z: 11, shape: { x1: 674, y1: lb, x2: 712, y2: rb }, style: { stroke: "#B5B3B3", lineWidth: 2 } });
    });
    wordCloud.forEach(([w, x, y, s, c]) => graphicEls.push(text(w, x, y, s, c)));

    VOLCANO_LINKS.forEach(([a, b, c, d]) => graphicEls.push({ type: "line", z: 40, shape: { x1: vx(a), y1: vy(b), x2: vx(c), y2: vy(d) }, style: { stroke: "#888", lineWidth: 1 } }));
    VOLCANO_LABELS.forEach(([t, a, b, c, d]) => {
      graphicEls.push({ type: "rect", z: 41, shape: { x: vx(a), y: vy(c), width: vx(b) - vx(a), height: vy(d) - vy(c), r: 1 }, style: { fill: "#fff", stroke: "#C8C8C8", lineWidth: 1.5 } });
      graphicEls.push({ ...centred(t, (vx(a) + vx(b)) / 2, (vy(c) + vy(d)) / 2, 16.3, "#111", "bold"), z: 42 });
    });

    MANHATTAN_LINKS.forEach(([a, b, c, d]) => graphicEls.push({ type: "line", z: 40, shape: { x1: mx(a), y1: my(b), x2: mx(c), y2: my(d) }, style: { stroke: "#7f7f7f", lineWidth: 3 } }));
    MANHATTAN_LABELS.forEach(([t, col, a, b, c, d], i) => {
      const zb = 41 + i * 2;
      graphicEls.push({ type: "rect", z: zb, shape: { x: mx(a), y: my(c), width: mx(b) - mx(a), height: my(d) - my(c), r: 3 }, style: { fill: "#fff", stroke: col, lineWidth: 1.6 } });
      graphicEls.push({ ...centred(t, (mx(a) + mx(b)) / 2, (my(c) + my(d)) / 2, 17.2, col), z: zb + 1 });
    });

    chart.setOption({
      animation: false,
      backgroundColor: "#fff",
      textStyle: { fontFamily: FONT },
      grid: grids,
      xAxis,
      yAxis,
      series,
      graphic: { elements: graphicEls },
    });
    return () => chart.dispose();
  }, []);

  return <div ref={ref} style={{ position: "absolute", left: 0, top: 0, width: 2000, height: 2224, background: "#fff" }} />;
}
